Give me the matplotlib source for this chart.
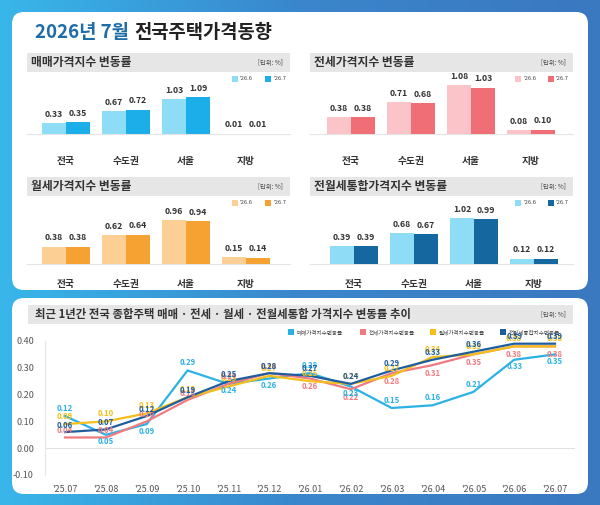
import matplotlib.pyplot as plt
import numpy as np
from matplotlib.patches import FancyBboxPatch, Rectangle
from matplotlib.colors import LinearSegmentedColormap

plt.rcParams['font.family'] = ['Noto Sans CJK KR', 'DejaVu Sans']

W, H = 600, 505

# ---- data ----
regions = ['전국', '수도권', '서울', '지방']
sale_jun = [0.33, 0.67, 1.03, 0.01]
sale_jul = [0.35, 0.72, 1.09, 0.01]
jeonse_jun = [0.38, 0.71, 1.08, 0.08]
jeonse_jul = [0.38, 0.68, 1.03, 0.10]
wolse_jun = [0.38, 0.62, 0.96, 0.15]
wolse_jul = [0.38, 0.64, 0.94, 0.14]
total_jun = [0.39, 0.68, 1.02, 0.12]
total_jul = [0.39, 0.67, 0.99, 0.12]
bar_legend = ["'26.6", "'26.7"]

months = ["'25.07", "'25.08", "'25.09", "'25.10", "'25.11", "'25.12", "'26.01",
          "'26.02", "'26.03", "'26.04", "'26.05", "'26.06", "'26.07"]
trend_sale = [0.12, 0.05, 0.09, 0.29, 0.24, 0.26, 0.28, 0.23, 0.15, 0.16, 0.21, 0.33, 0.35]
trend_jeonse = [0.04, 0.04, 0.10, 0.18, 0.24, 0.28, 0.26, 0.22, 0.28, 0.31, 0.35, 0.38, 0.38]
trend_wolse = [0.09, 0.10, 0.13, 0.19, 0.23, 0.27, 0.25, 0.24, 0.27, 0.34, 0.35, 0.38, 0.38]
trend_total = [0.06, 0.07, 0.12, 0.19, 0.25, 0.28, 0.27, 0.24, 0.29, 0.33, 0.36, 0.39, 0.39]
trend_names = ['매매가격지수변동률', '전세가격지수변동률', '월세가격지수변동률', '전월세통합지수변동률']

fig = plt.figure(figsize=(W / 100, H / 100), dpi=100)


def px_axes(x0, y0, x1, y1):
    return fig.add_axes([x0 / W, 1 - y1 / H, (x1 - x0) / W, (y1 - y0) / H])


# background (pixel coordinates, y down)
bg = fig.add_axes([0, 0, 1, 1])
bg.set_xlim(0, W)
bg.set_ylim(H, 0)
bg.axis('off')
grad = LinearSegmentedColormap.from_list('g', ['#38b6ea', '#3a86cc', '#3a78c0'])
bg.imshow(np.linspace(0, 1, 200)[None, :], cmap=grad, aspect='auto', extent=[0, W, H, 0])

for (x, y, w, h) in [(12, 12, 576, 278), (12, 298, 576, 196)]:
    bg.add_patch(FancyBboxPatch((x, y), w, h, boxstyle='round,pad=0,rounding_size=12',
                                fc='white', ec='none'))

t1 = bg.text(35, 33, '2026년 7월', fontsize=13.5, fontweight='bold', color='#1f6cab', va='center')
fig.canvas.draw()
x_end = t1.get_window_extent().x1
bg.text(x_end + 5, 33, '전국주택가격동향', fontsize=13.5, fontweight='bold', color='#222222', va='center')

# ---- bar panels ----
panels = [
    ('매매가격지수 변동률', 27, 290, 53, 36, 134, 26, 34, sale_jun, sale_jul, '#8fdcf6', '#1baee9', 232),
    ('전세가격지수 변동률', 310, 573, 53, 321, 134, 26, 45, jeonse_jun, jeonse_jul, '#fac4c8', '#f06f77', 515),
    ('월세가격지수 변동률', 27, 290, 177, 36, 264, 19, 46, wolse_jun, wolse_jul, '#fccf95', '#f5a232', 232),
    ('전월세통합가격지수 변동률', 310, 573, 177, 324, 264, 19, 45, total_jun, total_jul, '#8fdcf6', '#15679f', 515),
]

for (title, hx0, hx1, hy, ax0, base, lab_gap, scale, jun, jul, c1, c2, lgx) in panels:
    bg.add_patch(Rectangle((hx0, hy), hx1 - hx0, 19, fc='#e6e6e6', ec='none'))
    bg.text(hx0 + 4, hy + 9.5, title, fontsize=8.5, fontweight='bold', color='#333333', va='center')
    bg.text(hx1 - 7, hy + 10, '[단위: %]', fontsize=4.6, color='#444444', va='center', ha='right')
    # legend
    for k, (lab, c) in enumerate(zip(bar_legend, [c1, c2])):
        lx = lgx + k * 33
        bg.add_patch(Rectangle((lx, hy + 23), 6, 6, fc=c, ec='none'))
        bg.text(lx + 8, hy + 26, lab, fontsize=4.2, color='#444444', va='center')
    bg.plot([hx0, hx1], [base, base], color='#e4e4e4', lw=0.8)

    top = hy + 30
    ax = px_axes(ax0, top, ax0 + 240, base)
    ax.set_xlim(-0.5, 3.5)
    ax.set_ylim(0, (base - top) / scale)
    x = np.arange(len(regions))
    ax.bar(x - 0.2, jun, 0.4, color=c1, zorder=2)
    ax.bar(x + 0.2, jul, 0.4, color=c2, zorder=2)
    for xi, v1, v2 in zip(x, jun, jul):
        for dx, v in [(-0.2, v1), (0.2, v2)]:
            ax.annotate(f'{v:.2f}', (xi + dx, v), xytext=(0, 3), textcoords='offset points',
                        ha='center', va='bottom', fontsize=6.3, fontweight='bold', color='#333333')
    ax.set_xticks(x, regions)
    ax.set_yticks([])
    ax.tick_params(length=0, labelsize=7, pad=lab_gap * 0.72 - 3, labelcolor='#333333')
    for lbl in ax.get_xticklabels():
        lbl.set_fontweight('bold')
    for s in ax.spines.values():
        s.set_visible(False)
    ax.patch.set_alpha(0)

# ---- trend chart ----
bg.add_patch(Rectangle((28, 305), 545, 19, fc='#e6e6e6', ec='none'))
bg.text(35, 314.5, '최근 1년간 전국 종합주택 매매 · 전세 · 월세 · 전월세통합 가격지수 변동률 추이',
        fontsize=8.2, fontweight='bold', color='#333333', va='center')
bg.text(566, 315, '[단위: %]', fontsize=4.6, color='#444444', va='center', ha='right')

c_sale, c_jeonse, c_wolse, c_total = '#2ab2e4', '#f07a80', '#f4bf1b', '#1e5e9e'
series = [trend_sale, trend_jeonse, trend_wolse, trend_total]
colors = [c_sale, c_jeonse, c_wolse, c_total]

legend_x = [288, 360, 430, 500]
for lx, name, c in zip(legend_x, trend_names, colors):
    bg.add_patch(Rectangle((lx, 329), 6, 6, fc=c, ec='none'))
    bg.text(lx + 9, 332, name, fontsize=4, color='#444444', va='center')

ax = px_axes(45, 341, 575, 475)
ax.patch.set_alpha(0)
x = np.arange(len(months))
ax.set_xlim(-0.49, 12.49)
ax.set_ylim(-0.10, 0.40)
ax.axhline(0, color='#e2e2e2', lw=0.8, zorder=1)
for vals, c in zip(series, colors):
    ax.plot(x, vals, color=c, lw=1.6, zorder=3)

lab_kw = dict(textcoords='offset points', ha='center', va='center', fontsize=5.6, fontweight='bold')
for i in x:
    s, j, w, t = trend_sale[i], trend_jeonse[i], trend_wolse[i], trend_total[i]
    ax.annotate(f'{t:.2f}', (i, t), xytext=(0, 5), color=c_total, zorder=5, **lab_kw)
    ax.annotate(f'{w:.2f}', (i, w), xytext=(0, 5.5), color=c_wolse, zorder=4, **lab_kw)
    ax.annotate(f'{j:.2f}', (i, j), xytext=(0, 5 if i < 6 else -6), color=c_jeonse, zorder=4, **lab_kw)
    up = s > t or t - s > 0.1
    ax.annotate(f'{s:.2f}', (i, s), xytext=(0, 5.5 if up else -5), color=c_sale, zorder=4, **lab_kw)

ax.set_yticks(np.arange(-0.1, 0.41, 0.1), [f'{v:.2f}' for v in np.arange(-0.1, 0.41, 0.1)])
ax.set_xticks(x, months)
ax.tick_params(length=0, labelsize=6.5, labelcolor='#555555')
ax.tick_params(axis='y', pad=8)
ax.tick_params(axis='x', pad=7)
for k, s in ax.spines.items():
    s.set_visible(k == 'left')
ax.spines['left'].set_color('#e6e6e6')

fig.savefig('out.png', dpi=100)
